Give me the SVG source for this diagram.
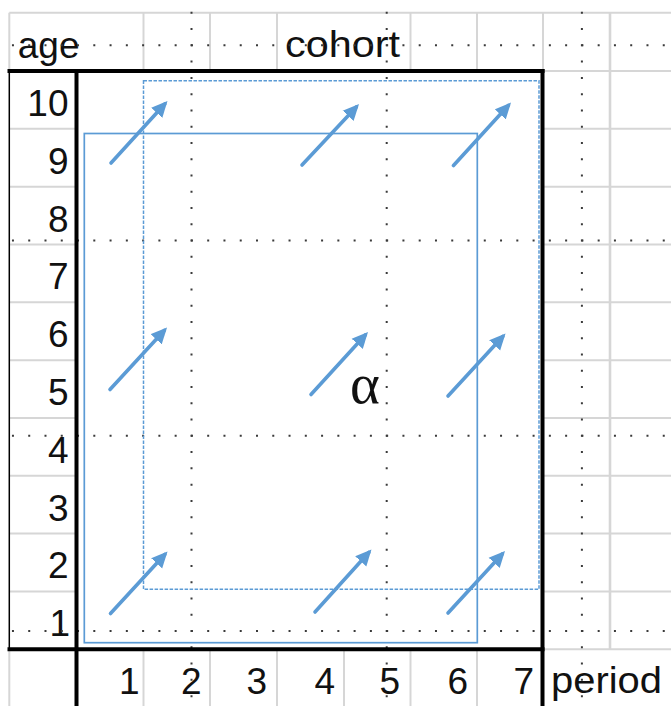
<svg xmlns="http://www.w3.org/2000/svg" width="671" height="706" viewBox="0 0 671 706">
<defs>
<style>
.g{stroke:#d6d6d6;stroke-width:2;fill:none}
.k{stroke:#000;stroke-width:4;fill:none}
.kt{stroke:#000;stroke-width:1.5;fill:none}
.d{stroke:#3a3a3a;stroke-width:2;stroke-dasharray:2 14.27;fill:none}
.t{font-family:"Liberation Sans",Arial,sans-serif;font-size:37px;fill:#111}
.r{text-anchor:end}
.blue{stroke:#5B9BD5;fill:none}
.arr{stroke:#5B9BD5;stroke-width:3.6;stroke-linecap:round;fill:none;marker-end:url(#ah)}
</style>
<marker id="ah" markerUnits="userSpaceOnUse" markerWidth="18" markerHeight="18" refX="12" refY="8" orient="auto">
<path d="M0,0.5 L16,8 L0,15.5 z" fill="#5B9BD5"/>
</marker>
</defs>
<rect x="0" y="0" width="671" height="706" fill="#fff"/>
<g id="gridlines">
<line class="g" x1="9.3" y1="12.7" x2="671" y2="12.7"/>
<line class="g" x1="9.3" y1="12.7" x2="9.3" y2="71"/>
<line class="g" x1="143.5" y1="12.7" x2="143.5" y2="71"/>
<line class="g" x1="210" y1="12.7" x2="210" y2="71"/>
<line class="g" x1="277" y1="12.7" x2="277" y2="71"/>
<line class="g" x1="410.5" y1="12.7" x2="410.5" y2="71"/>
<line class="g" x1="477" y1="12.7" x2="477" y2="71"/>
<line class="g" x1="543" y1="12.7" x2="543" y2="71"/>
<line class="g" x1="610" y1="12.7" x2="610" y2="649.3" style="stroke-width:2.6"/>
<line class="g" x1="543" y1="71" x2="671" y2="71"/>
<line class="g" x1="543" y1="128.8" x2="671" y2="128.8"/>
<line class="g" x1="543" y1="186.7" x2="671" y2="186.7"/>
<line class="g" x1="543" y1="244.5" x2="671" y2="244.5"/>
<line class="g" x1="543" y1="302.3" x2="671" y2="302.3"/>
<line class="g" x1="543" y1="360.2" x2="671" y2="360.2"/>
<line class="g" x1="543" y1="418" x2="671" y2="418"/>
<line class="g" x1="543" y1="475.8" x2="671" y2="475.8"/>
<line class="g" x1="543" y1="533.6" x2="671" y2="533.6"/>
<line class="g" x1="543" y1="591.5" x2="671" y2="591.5"/>
<line class="g" x1="543" y1="649.3" x2="671" y2="649.3"/>
<line class="g" x1="9.3" y1="128.8" x2="76.5" y2="128.8"/>
<line class="g" x1="9.3" y1="186.7" x2="76.5" y2="186.7"/>
<line class="g" x1="9.3" y1="244.5" x2="76.5" y2="244.5"/>
<line class="g" x1="9.3" y1="302.3" x2="76.5" y2="302.3"/>
<line class="g" x1="9.3" y1="360.2" x2="76.5" y2="360.2"/>
<line class="g" x1="9.3" y1="418" x2="76.5" y2="418"/>
<line class="g" x1="9.3" y1="475.8" x2="76.5" y2="475.8"/>
<line class="g" x1="9.3" y1="533.6" x2="76.5" y2="533.6"/>
<line class="g" x1="9.3" y1="591.5" x2="76.5" y2="591.5"/>
<line class="g" x1="9.3" y1="649.3" x2="9.3" y2="706"/>
<line class="g" x1="143.5" y1="649.3" x2="143.5" y2="706"/>
<line class="g" x1="210" y1="649.3" x2="210" y2="706"/>
<line class="g" x1="277" y1="649.3" x2="277" y2="706"/>
<line class="g" x1="344" y1="649.3" x2="344" y2="706"/>
<line class="g" x1="410.5" y1="649.3" x2="410.5" y2="706"/>
<line class="g" x1="477" y1="649.3" x2="477" y2="706"/>
</g>
<g id="labels">
<text class="t" x="17.8" y="57.5">age</text>
<text class="t" x="285" y="57" textLength="115" lengthAdjust="spacingAndGlyphs">cohort</text>
<text class="t" x="551" y="693" textLength="111" lengthAdjust="spacingAndGlyphs">period</text>
<g class="t r">
<text x="68.5" y="116">10</text>
<text x="68.5" y="173.8">9</text>
<text x="68.5" y="231.6">8</text>
<text x="68.5" y="289.4">7</text>
<text x="68.5" y="347.2">6</text>
<text x="68.5" y="405">5</text>
<text x="68.5" y="462.8">4</text>
<text x="68.5" y="520.6">3</text>
<text x="68.5" y="578.4">2</text>
<text x="70" y="636">1</text>
<text x="139.5" y="694">1</text>
<text x="201.5" y="694">2</text>
<text x="267" y="694">3</text>
<text x="335" y="694">4</text>
<text x="400" y="694">5</text>
<text x="468" y="694">6</text>
<text x="534" y="694">7</text>
</g>
</g>
<g id="page-breaks">
<line class="d" x1="191.5" y1="11.8" x2="191.5" y2="706"/>
<line class="d" x1="386.7" y1="11.8" x2="386.7" y2="706"/>
<line class="d" x1="581.9" y1="11.8" x2="581.9" y2="706"/>
<line class="d" x1="11.95" y1="45.3" x2="671" y2="45.3"/>
<line class="d" x1="11.95" y1="240.5" x2="671" y2="240.5"/>
<line class="d" x1="11.95" y1="435.7" x2="671" y2="435.7"/>
<line class="d" x1="11.95" y1="630.9" x2="671" y2="630.9"/>
</g>
<g id="frame">
<line class="kt" x1="9.3" y1="71" x2="9.3" y2="649.3"/>
<line class="k" x1="7.5" y1="71" x2="544.5" y2="71"/>
<line class="k" x1="7.5" y1="649.3" x2="544.5" y2="649.3"/>
<line class="k" x1="76.5" y1="69" x2="76.5" y2="706"/>
<line class="k" x1="542.5" y1="69" x2="542.5" y2="706"/>
</g>
<g id="solid-rect">
<rect class="blue" x="84.3" y="133.5" width="393" height="509.2" style="stroke-width:1.7"/>
</g>
<g id="dashed-rect">
<rect class="blue" x="143.5" y="80.7" width="395.5" height="508.6" style="stroke-width:1.5;stroke-dasharray:3.5 1.5"/>
</g>
<g id="connectors">
<line class="arr" x1="111" y1="163" x2="164.8" y2="104"/>
<line class="arr" x1="302" y1="165" x2="356.3" y2="107"/>
<line class="arr" x1="453.5" y1="165.5" x2="508.3" y2="105.5"/>
<line class="arr" x1="110" y1="389.5" x2="164.3" y2="330.5"/>
<line class="arr" x1="311" y1="394.5" x2="365.3" y2="335"/>
<line class="arr" x1="448" y1="396" x2="502.8" y2="336.5"/>
<line class="arr" x1="110.5" y1="613.5" x2="164.8" y2="554.5"/>
<line class="arr" x1="315" y1="612" x2="368.8" y2="552.5"/>
<line class="arr" x1="448" y1="613" x2="502.3" y2="554"/>
</g>
<g id="alpha">
<text x="350" y="402.5" style="font-family:'Liberation Serif','Times New Roman',serif;font-size:57px;fill:#111">α</text>
</g>
</svg>
